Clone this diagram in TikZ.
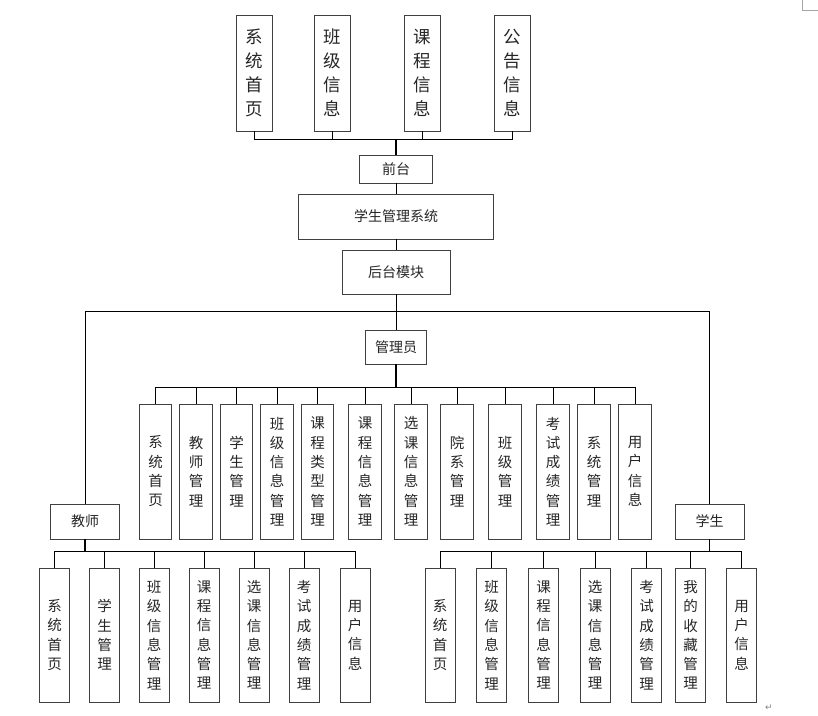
\documentclass[tikz,border=0pt]{standalone}
\usepackage{fontspec}
\newfontfamily\cjk{Noto Sans CJK SC}
\newfontfamily\dejavu{DejaVu Sans}
\begin{document}
\begin{tikzpicture}[x=1pt,y=1pt,
  frame/.style={draw=black!75, line width=0.9pt, fill=white, inner sep=0pt, align=center, text=black!85},
  topbox/.style={frame, minimum width=36pt, minimum height=116pt, font=\cjk\fontsize{17.5}{24}\selectfont},
  midbox/.style={frame, font=\cjk\fontsize{14}{17}\selectfont},
  abox/.style={frame, minimum width=32.5pt, minimum height=135pt, font=\cjk\fontsize{14.5}{19.3}\selectfont},
  cbox/.style={frame, minimum width=30pt, minimum height=134pt, font=\cjk\fontsize{14.5}{19.3}\selectfont},
  link/.style={draw=black, line width=0.8pt}]
\useasboundingbox (0,0) rectangle (818,-715);

% top boxes
\foreach \x/\t [count=\i] in {254/{系\\统\\首\\页},332/{班\\级\\信\\息},422/{课\\程\\信\\息},512/{公\\告\\信\\息}}
  \node[topbox] (t\i) at (\x,-73) {\t};

% middle column
\node[midbox, minimum width=73pt, minimum height=28pt] (qian) at (396,-169) {前台};
\node[midbox, minimum width=195pt, minimum height=45pt] (sys) at (396,-216.5) {学生管理系统};
\node[midbox, minimum width=108pt, minimum height=44pt] (hou) at (396,-272) {后台模块};
\node[midbox, minimum width=61pt, minimum height=34pt] (admin) at (396,-347) {管理员};
\node[midbox, minimum width=69pt, minimum height=35pt] (teacher) at (85,-521.5) {教师};
\node[midbox, minimum width=69pt, minimum height=35pt] (student) at (709.5,-521.5) {学生};

% admin children
\foreach \x/\t [count=\i] in {155.5/{系\\统\\首\\页},196/{教\\师\\管\\理},236.5/{学\\生\\管\\理},277/{班\\级\\信\\息\\管\\理},317.5/{课\\程\\类\\型\\管\\理},365/{课\\程\\信\\息\\管\\理},411/{选\\课\\信\\息\\管\\理},457/{院\\系\\管\\理},505/{班\\级\\管\\理},553/{考\\试\\成\\绩\\管\\理},594/{系\\统\\管\\理},635/{用\\户\\信\\息}}
  \node[abox] (a\i) at (\x,-471.5) {\t};

% teacher children
\foreach \x/\t [count=\i] in {54.5/{系\\统\\首\\页},104.5/{学\\生\\管\\理},154/{班\\级\\信\\息\\管\\理},204/{课\\程\\信\\息\\管\\理},254/{选\\课\\信\\息\\管\\理},304/{考\\试\\成\\绩\\管\\理},355/{用\\户\\信\\息}}
  \node[cbox] (c\i) at (\x,-635) {\t};

% student children
\foreach \x/\t [count=\i] in {440/{系\\统\\首\\页},491.5/{班\\级\\信\\息\\管\\理},543.5/{课\\程\\信\\息\\管\\理},595/{选\\课\\信\\息\\管\\理},646.5/{考\\试\\成\\绩\\管\\理},690.5/{我\\的\\收\\藏\\管\\理},741.5/{用\\户\\信\\息}}
  \node[cbox] (s\i) at (\x,-635) {\t};

% bus coordinates
\coordinate (fbus) at (0,-139);
\coordinate (bbus) at (0,-311.5);
\coordinate (abus) at (0,-387);
\coordinate (cbus) at (0,-551);

% front connectors
\draw[link] (t1.south) |- (t4.south |- fbus) -- (t4.south);
\foreach \i in {2,3} \draw[link] (t\i.south) -- (t\i.south |- fbus);
\draw[link, line width=1.2pt] (qian.north) -- (qian.north |- fbus);
\draw[link] (qian.south) -- (sys.north);
\draw[link] (sys.south) -- (hou.north);

% back connectors
\draw[link] (hou.south) -- (admin.north);
\draw[link] (teacher.north) |- (student.north |- bbus) -- (student.north);

% admin connectors
\draw[link] (a1.north) |- (a12.north |- abus) -- (a12.north);
\foreach \i in {2,...,11} \draw[link] (a\i.north) -- (a\i.north |- abus);
\draw[link, line width=1.2pt] (admin.south) -- (admin.south |- abus);

% teacher connectors
\draw[link] (c1.north) |- (c7.north |- cbus) -- (c7.north);
\foreach \i in {2,...,6} \draw[link] (c\i.north) -- (c\i.north |- cbus);
\draw[link, line width=1.2pt] (teacher.south) -- (teacher.south |- cbus);

% student connectors
\draw[link] (s1.north) |- (s7.north |- cbus) -- (s7.north);
\foreach \i in {2,...,6} \draw[link] (s\i.north) -- (s\i.north |- cbus);
\draw[link, line width=1.2pt] (student.south) -- (student.south |- cbus);

% page marks
\draw[gray!70, line width=0.8pt] (802,0) -- (802,-10) -- (818,-10);
\node[text=gray, font=\dejavu\fontsize{9}{9}\selectfont, inner sep=0pt] (ret) at (769,-708) {↵};
\end{tikzpicture}
\end{document}
